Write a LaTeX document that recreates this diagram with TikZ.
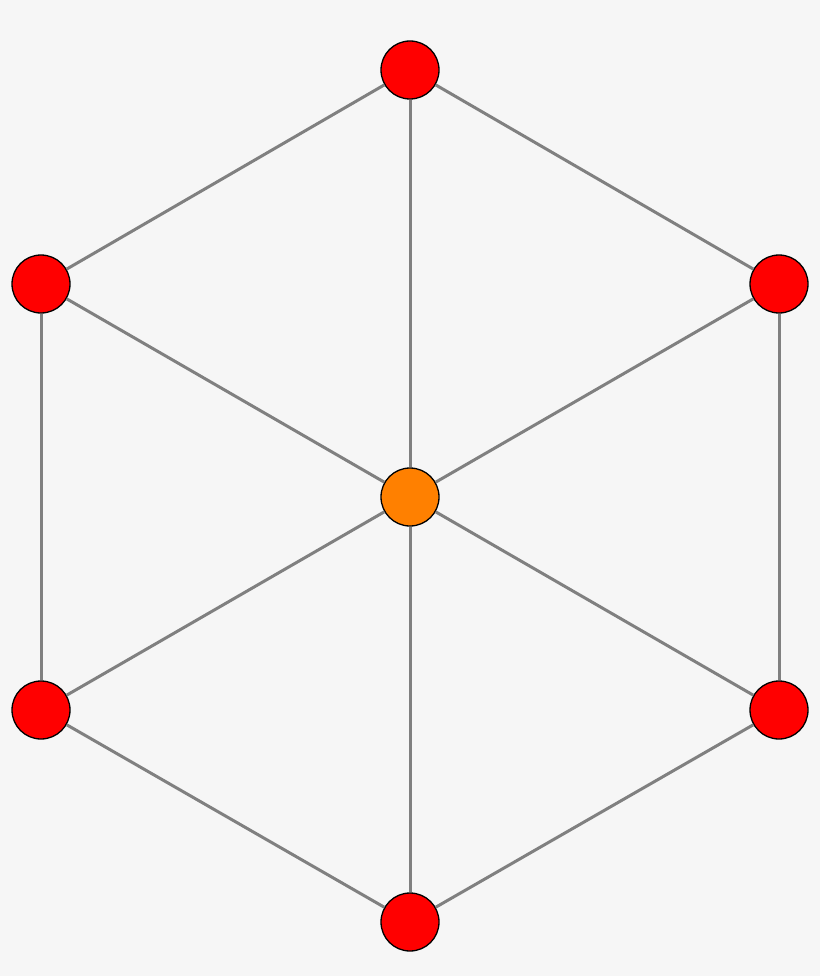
\documentclass[tikz,border=0pt]{standalone}
\definecolor{bg}{HTML}{F6F6F6}
\definecolor{edgegray}{HTML}{808080}
\definecolor{vred}{HTML}{FF0000}
\definecolor{vorange}{HTML}{FF8000}
\begin{document}
\begin{tikzpicture}[x=1pt,y=-1pt,
  vert/.style={circle,draw=black,line width=1.3pt,minimum size=58pt,inner sep=0pt,fill=vred},
  hub/.style={vert,fill=vorange},
  edge/.style={draw=edgegray,line width=3pt}]
\fill[bg] (0,0) rectangle (820,976);
\useasboundingbox (0,0) rectangle (820,976);
\node[vert] (t) at (410,70) {};
\node[vert] (ul) at (41,284) {};
\node[vert] (ur) at (779,284) {};
\node[hub] (c) at (410,497) {};
\node[vert] (ll) at (41,710) {};
\node[vert] (lr) at (779,710) {};
\node[vert] (b) at (410,922) {};
\begin{scope}[on background layer/.style={}]
\end{scope}
\foreach \a/\b in {t/ul,t/ur,ul/ll,ur/lr,ll/b,lr/b,c/t,c/b,c/ul,c/ur,c/ll,c/lr}
  \draw[edge] (\a) -- (\b);
\end{tikzpicture}
\end{document}
